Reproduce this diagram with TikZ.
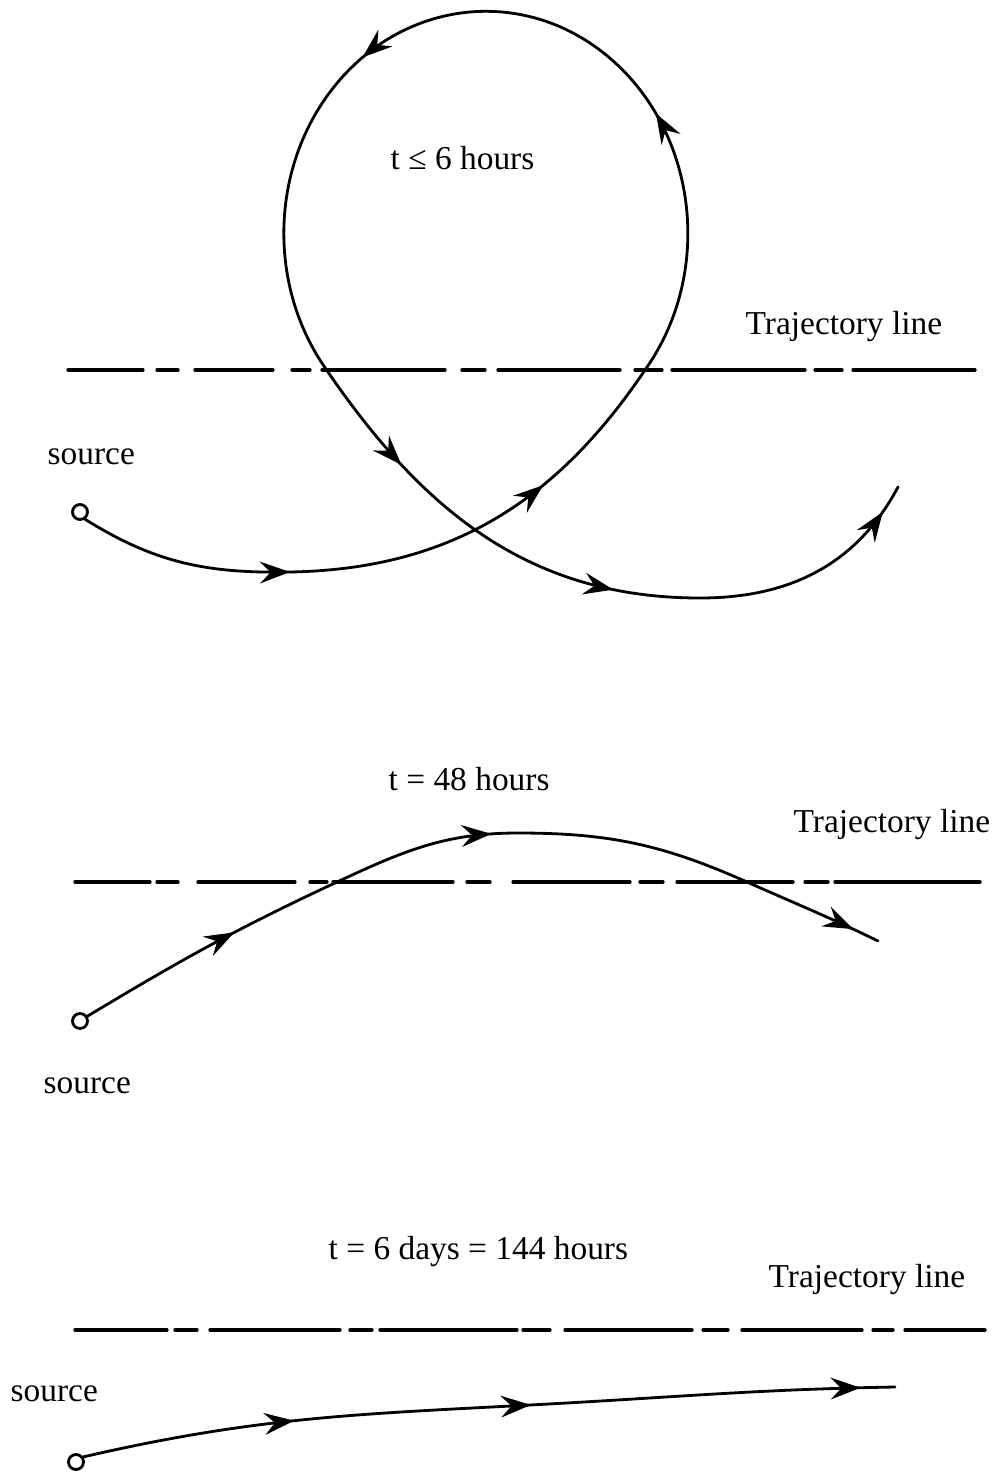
\documentclass[tikz,border=0pt]{standalone}
\usepackage{fontspec}
\setmainfont{Liberation Serif}
\usetikzlibrary{arrows.meta,decorations.markings}
\begin{document}
\begin{tikzpicture}[x=0.01cm,y=0.01cm,
  curve/.style={line width=0.8pt, line cap=round, line join=round},
  trajline/.style={line width=0.95pt, line cap=round},
  tipA/.tip={Stealth[length=8.5pt,width=6.2pt,inset=3pt]},
  srcnode/.style={circle, draw, line width=0.8pt, inner sep=0pt, minimum size=0.15cm},
  lbl/.style={font=\fontsize{9.5pt}{11pt}\selectfont, inner sep=0pt, anchor=base west}]
\useasboundingbox (0,0) rectangle (993,-1473);

% ---------- panel 1 ----------
\node[lbl] (t1) at (390,-170) {t ≤ 6 hours};
\node[lbl] (tr1) at (745,-335) {Trajectory line};
\node[lbl] (so1) at (47,-465) {source};
\foreach \a/\b in {68/143,157/178,195/273,292/310,322/445,462/485,498/620,635/662,672/805,815/842,853/975}
  \draw[trajline] (\a,-370) -- (\b,-370);
\node[srcnode] (s1) at (80,-512) {};
\coordinate (m1) at (290,-572);
\coordinate (d1) at (645,-370);
\coordinate (b1) at (700,-598);
\coordinate (e1) at (898,-487);
\draw[curve, postaction={decorate}, decoration={markings,
    mark=at position 2.15cm with {\arrow{tipA}},
    mark=at position 4.88cm with {\arrow{tipA}},
    mark=at position 9.13cm with {\arrow{tipA}},
    mark=at position 12.55cm with {\arrow{tipA}},
    mark=at position 17.2cm with {\arrow{tipA}},
    mark=at position 19.7cm with {\arrow{tipA}},
    mark=at position 22.68cm with {\arrow{tipA}}}]
  (s1.-55) to[out=-32,in=181] (m1)
  to[out=1,in=236] (d1)
  arc[start angle=-38, end angle=216, x radius=202, y radius=222] coordinate (d2)
  to[out=-56,in=180] (b1)
  to[out=0,in=242] (e1);

% ---------- panel 2 ----------
\node[lbl] (t2) at (388,-790) {t = 48 hours};
\node[lbl] (tr2) at (793,-832) {Trajectory line};
\node[lbl] (so2) at (43,-1093) {source};
\foreach \a/\b in {75/150,157/178,198/295,310/327,333/453,467/490,513/630,640/663,677/793,805/828,835/980}
  \draw[trajline] (\a,-882) -- (\b,-882);
\node[srcnode] (s2) at (80,-1021) {};
\coordinate (c2) at (337,-882);
\coordinate (top2) at (518,-833);
\coordinate (d3) at (747,-882);
\coordinate (e2) at (878,-941);
\draw[curve, postaction={decorate}, decoration={markings,
    mark=at position 1.69cm with {\arrow{tipA}},
    mark=at position 4.46cm with {\arrow{tipA}},
    mark=at position 8.25cm with {\arrow{tipA}}}]
  (s2.33) to[out=31,in=205] (c2)
  to[out=25,in=180] (top2)
  to[out=0,in=156] (d3)
  to[out=-24,in=154] (e2);

% ---------- panel 3 ----------
\node[lbl] (t3) at (328,-1259) {t = 6 days = 144 hours};
\node[lbl] (tr3) at (768,-1287) {Trajectory line};
\node[lbl] (so3) at (10,-1401) {source};
\foreach \a/\b in {75/167,175/197,210/340,350/372,380/517,523/550,565/692,703/728,742/862,873/893,905/985}
  \draw[trajline] (\a,-1330) -- (\b,-1330);
\node[srcnode] (s3) at (76,-1462) {};
\coordinate (m3) at (530,-1405);
\coordinate (e3) at (895,-1387);
\draw[curve, postaction={decorate}, decoration={markings,
    mark=at position 2.14cm with {\arrow{tipA}},
    mark=at position 4.51cm with {\arrow{tipA}},
    mark=at position 7.81cm with {\arrow{tipA}}}]
  (s3.35) to[out=13,in=183] (m3)
  to[out=3,in=181] (e3);
\end{tikzpicture}
\end{document}
